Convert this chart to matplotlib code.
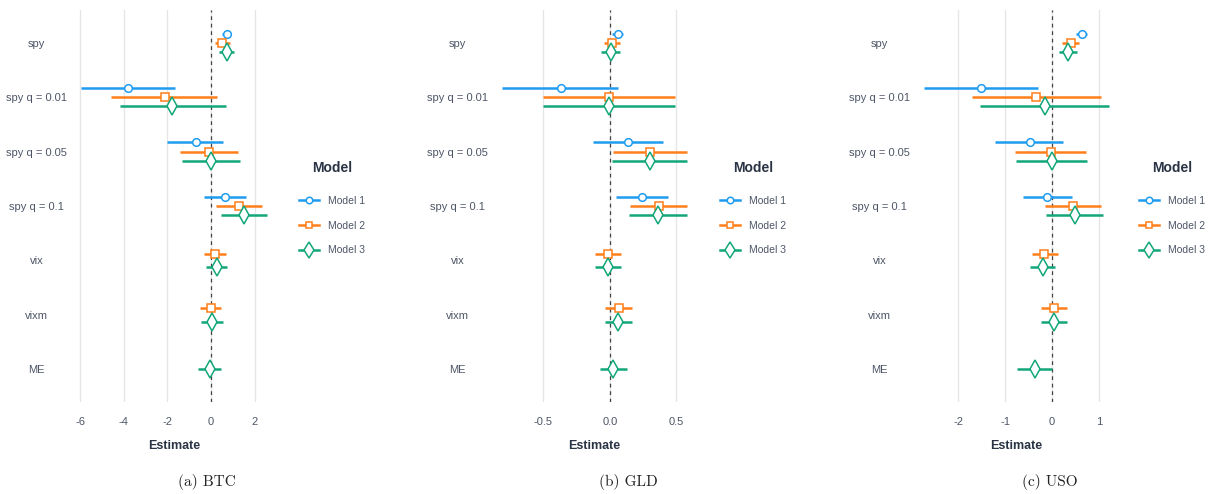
import numpy as np
import matplotlib
matplotlib.use('Agg')
import matplotlib.pyplot as plt
from matplotlib import font_manager
from matplotlib.lines import Line2D

nan = np.nan

TERMS = ['spy', 'spy q = 0.01', 'spy q = 0.05', 'spy q = 0.1', 'vix', 'vixm', 'ME']
MODELS = ['Model 1', 'Model 2', 'Model 3']
COLOURS = ['#1f9cf0', '#ff7f1a', '#12a679']
MARKERS = ['o', 's', 'd']
MSIZES = [5.5, 5.5, 9]

# BTC
btc_est = [[0.72, -3.80, -0.71, 0.66, nan, nan, nan],
           [0.52, -2.13, -0.08, 1.30, 0.17, 0.00, nan],
           [0.73, -1.77, 0.01, 1.52, 0.28, 0.03, -0.06]]
btc_lo = [[0.50, -5.96, -2.00, -0.31, nan, nan, nan],
          [0.20, -4.58, -1.44, 0.24, -0.32, -0.52, nan],
          [0.38, -4.20, -1.35, 0.44, -0.25, -0.46, -0.58]]
btc_hi = [[0.93, -1.67, 0.55, 1.59, nan, nan, nan],
          [0.86, 0.29, 1.26, 2.34, 0.69, 0.46, nan],
          [1.04, 0.69, 1.35, 2.56, 0.75, 0.53, 0.44]]

# GLD
gld_est = [[0.063, -0.37, 0.14, 0.24, nan, nan, nan],
           [0.018, -0.005, 0.30, 0.37, -0.01, 0.068, nan],
           [0.008, -0.008, 0.30, 0.36, -0.01, 0.065, 0.028]]
gld_lo = [[0.02, -0.81, -0.125, 0.045, nan, nan, nan],
          [-0.045, -0.505, 0.028, 0.15, -0.113, -0.035, nan],
          [-0.063, -0.505, 0.02, 0.143, -0.113, -0.035, -0.075]]
gld_hi = [[0.10, 0.065, 0.40, 0.437, nan, nan, nan],
          [0.075, 0.49, 0.578, 0.58, 0.088, 0.166, nan],
          [0.075, 0.49, 0.578, 0.58, 0.088, 0.168, 0.133]]

# USO
uso_est = [[0.63, -1.51, -0.48, -0.11, nan, nan, nan],
           [0.40, -0.34, -0.02, 0.45, -0.17, 0.05, nan],
           [0.35, -0.15, -0.01, 0.49, -0.20, 0.045, -0.37]]
uso_lo = [[0.50, -2.73, -1.21, -0.63, nan, nan, nan],
          [0.21, -1.70, -0.79, -0.15, -0.43, -0.24, nan],
          [0.15, -1.53, -0.77, -0.12, -0.48, -0.24, -0.74]]
uso_hi = [[0.75, -0.31, 0.24, 0.43, nan, nan, nan],
          [0.57, 1.04, 0.73, 1.05, 0.12, 0.31, nan],
          [0.53, 1.21, 0.75, 1.09, 0.07, 0.31, -0.01]]

btc_ticks = [-6, -4, -2, 0, 2]
gld_ticks = [-0.5, 0.0, 0.5]
uso_ticks = [-2, -1, 0, 1]

names = {f.name for f in font_manager.fontManager.ttflist}
SANS = 'Liberation Sans Narrow' if 'Liberation Sans Narrow' in names else 'Liberation Sans'
plt.rcParams['font.family'] = [SANS, 'DejaVu Sans']
plt.rcParams['axes.unicode_minus'] = False

TEXT = '#4d5566'
DARK = '#2b3445'

fig = plt.figure(figsize=(12.08, 4.94), dpi=100)
W, H = 1208, 494

# (left px, right px, legend left px, caption centre px)
PANELS = [
    (btc_est, btc_lo, btc_hi, btc_ticks, '{:g}', 72, 276, 294, 207, '(a) BTC'),
    (gld_est, gld_lo, gld_hi, gld_ticks, '{:.1f}', 493, 696, 715, 628, '(b) GLD'),
    (uso_est, uso_lo, uso_hi, uso_ticks, '{:g}', 915, 1118, 1134, 1050, '(c) USO'),
]

DODGE = 0.5

for est, lo, hi, ticks, fmt, left, right, leg_x, cap_x, caption in PANELS:
    ax = fig.add_axes([left / W, 1 - 402 / H, (right - left) / W, 392 / H])
    est, lo, hi = np.array(est), np.array(lo), np.array(hi)

    for t in range(len(TERMS)):
        present = [m for m in range(len(MODELS)) if not np.isnan(est[m, t])]
        n = len(present)
        for i, m in enumerate(present):
            y = t - DODGE / 2 + DODGE / (2 * n) + i * DODGE / n
            ax.plot([lo[m, t], hi[m, t]], [y, y], color=COLOURS[m], lw=1.8,
                    solid_capstyle='butt', zorder=3)
            ax.plot(est[m, t], y, marker=MARKERS[m], ms=MSIZES[m], mfc='white',
                    mec=COLOURS[m], mew=1.1, zorder=4)

    ax.axvline(0, color='#444444', ls=(0, (3, 3)), lw=0.9, zorder=2)

    dmin, dmax = np.nanmin(lo), np.nanmax(hi)
    pad = (dmax - dmin) * 0.05
    ax.set_xlim(dmin - pad, dmax + pad)
    ax.set_ylim(len(TERMS) - 0.4, -0.6)

    ax.set_xticks(ticks)
    ax.set_xticklabels([fmt.format(v) for v in ticks])
    ax.set_yticks(range(len(TERMS)))
    ax.set_yticklabels(TERMS, ha='center')
    ax.tick_params(axis='y', length=0, pad=25.5, labelsize=8, labelcolor=TEXT)
    ax.tick_params(axis='x', length=0, pad=11, labelsize=8, labelcolor=TEXT)
    ax.grid(axis='x', color='#e6e6e6', lw=1, zorder=0)
    ax.grid(axis='y', visible=False)
    for s in ax.spines.values():
        s.set_visible(False)
    ax.set_xlabel('Estimate', fontsize=9, fontweight='bold', color=DARK, labelpad=9)

    handles = [Line2D([], [], color=COLOURS[m], lw=1.8, marker=MARKERS[m],
                      ms=MSIZES[m] * 0.85, mfc='white', mec=COLOURS[m], mew=1.1)
               for m in range(len(MODELS))]
    leg = ax.legend(handles, MODELS, title='Model', loc='upper left',
                    bbox_to_anchor=(leg_x / W, 1 - 156 / H), bbox_transform=fig.transFigure,
                    frameon=False, fontsize=7.5, title_fontsize=10, borderpad=0,
                    handlelength=1.9, handletextpad=0.9, labelspacing=1.4)
    leg.get_title().set_fontweight('bold')
    leg.get_title().set_color(DARK)
    leg._legend_box.sep = 15
    for txt in leg.get_texts():
        txt.set_color(TEXT)

    fig.text(cap_x / W, 1 - 482 / H, caption, ha='center', va='center',
             fontsize=11, family=['cmr10', 'DejaVu Serif'], color='#222222')

fig.savefig('out.png', dpi=100, facecolor='white')
